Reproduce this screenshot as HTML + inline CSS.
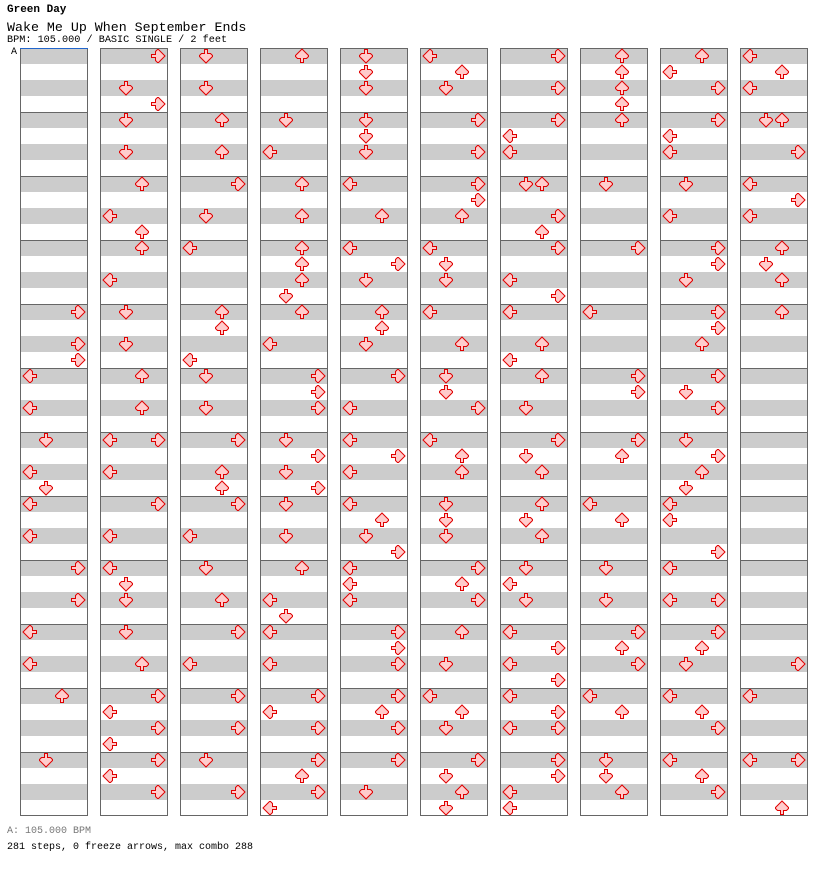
<!DOCTYPE html>
<html><head><meta charset="utf-8"><style>
body{margin:0;background:#fff;width:832px;height:876px;overflow:hidden;position:relative;font-family:"Liberation Mono",monospace;}
.t{position:absolute;left:7px;white-space:pre;color:#000;}
</style></head><body>
<div class="t" style="top:4px;font-size:11px;font-weight:bold;">Green Day</div>
<div class="t" style="top:20px;font-size:13.3px;">Wake Me Up When September Ends</div>
<div class="t" style="top:35px;font-size:10.2px;">BPM: 105.000 / BASIC SINGLE / 2 feet</div>
<div class="t" style="top:47px;left:11px;font-size:10px;">A</div>
<div class="t" style="top:826px;font-size:10px;color:#777;">A: 105.000 BPM</div>
<div class="t" style="top:842px;font-size:10px;">281 steps, 0 freeze arrows, max combo 288</div>
<svg id="s" width="832" height="876" style="position:absolute;left:0;top:0" xmlns="http://www.w3.org/2000/svg">
<defs><g id="a"><polygon points="6.5,1.5 9.5,1.5 9.5,5.5 12.5,5.5 14.5,7.5 14.5,8.5 8,15 1.5,8.5 1.5,7.5 3.5,5.5 6.5,5.5" fill="#ffcccc" stroke="#e00000" stroke-width="1"/></g></defs>
<g id="bg"></g><g id="ar"></g>
</svg>
<script>
var NS="http://www.w3.org/2000/svg",bg=document.getElementById("bg"),ar=document.getElementById("ar");
function el(p,t,a){var e=document.createElementNS(NS,t);for(var k in a)e.setAttribute(k,a[k]);p.appendChild(e);return e;}
for(var c=0;c<10;c++){var x=20+80*c;
 for(var m=0;m<12;m++){var y=48+64*m;
  el(bg,"rect",{x:x,y:y,width:68,height:16,fill:"#cccccc"});
  el(bg,"rect",{x:x,y:y+32,width:68,height:16,fill:"#cccccc"});
  el(bg,"line",{x1:x,y1:y+0.5,x2:x+68,y2:y+0.5,stroke:"#666"});
 }
 el(bg,"rect",{x:x+0.5,y:48.5,width:67,height:767,fill:"none",stroke:"#666"});
}
el(bg,"line",{x1:20,y1:48.5,x2:88,y2:48.5,stroke:"#2266cc"});
var D=[
"312R 344R 360R 376L 408L 440D 472L 488D 504L 536L 568R 600R 632L 664L 696U 760D",
"56R 88D 104R 120D 152D 184U 216L 232U 248U 280L 312D 344D 376U 408U 440L 440R 472L 504R 536L 568L 584D 600D 632D 664U 696R 712L 728R 744L 760R 776L 792R",
"56D 88D 120U 152U 184R 216D 248L 312U 328U 360L 376D 408D 440R 472U 488U 504R 536L 568D 600U 632R 664L 696R 728R 760D 792R",
"56U 120D 152L 184U 216U 248U 264U 280U 296D 312U 344L 376R 392R 408R 440D 456R 472D 488R 504D 536D 568U 600L 616D 632L 664L 696R 712L 728R 760R 776U 792R 808L",
"56D 72D 88D 120D 136D 152D 184L 216U 248L 264R 280D 312U 328U 344D 376R 408L 440L 456R 472L 504L 520U 536D 552R 568L 584L 600L 632R 648R 664R 696R 712U 728R 760R 792D",
"56L 72U 88D 120R 152R 184R 200R 216U 248L 264D 280D 312L 344U 376D 392D 408R 440L 456U 472U 504D 520D 536D 568R 584U 600R 632U 664D 696L 712U 728D 760R 776D 792U 808D",
"56R 88R 120R 136L 152L 184D 184U 216R 232U 248R 280L 296R 312L 344U 360L 376U 408D 440R 456D 472U 504U 520D 536U 568D 584L 600D 632L 648R 664L 680R 696L 712R 728L 728R 760R 776R 792L 808L",
"56U 72U 88U 104U 120U 184D 248R 312L 376R 392R 440R 456U 504L 520U 568D 600D 632R 648U 664R 696L 712U 760D 776D 792U",
"56U 72L 88R 120R 136L 152L 184D 216L 248R 264R 280D 312R 328R 344U 376R 392D 408R 440D 456R 472U 488D 504L 520L 552R 568L 600L 600R 632R 648U 664D 696L 712U 728R 760L 776U 792R",
"56L 72U 88L 120D 120U 152R 184L 200R 216L 248U 264D 280U 312U 664R 696L 760L 760R 808U"];
var L={L:0,D:1,U:2,R:3},R={L:90,D:0,U:180,R:270};
D.forEach(function(s,c){s.split(" ").forEach(function(t){
 var y=parseInt(t),d=t.slice(-1),x=20+80*c+2+16*L[d];
 el(ar,"use",{href:"#a",transform:"translate("+x+","+(y-8)+") rotate("+R[d]+",8,8)"});
});});
</script>
</body></html>
